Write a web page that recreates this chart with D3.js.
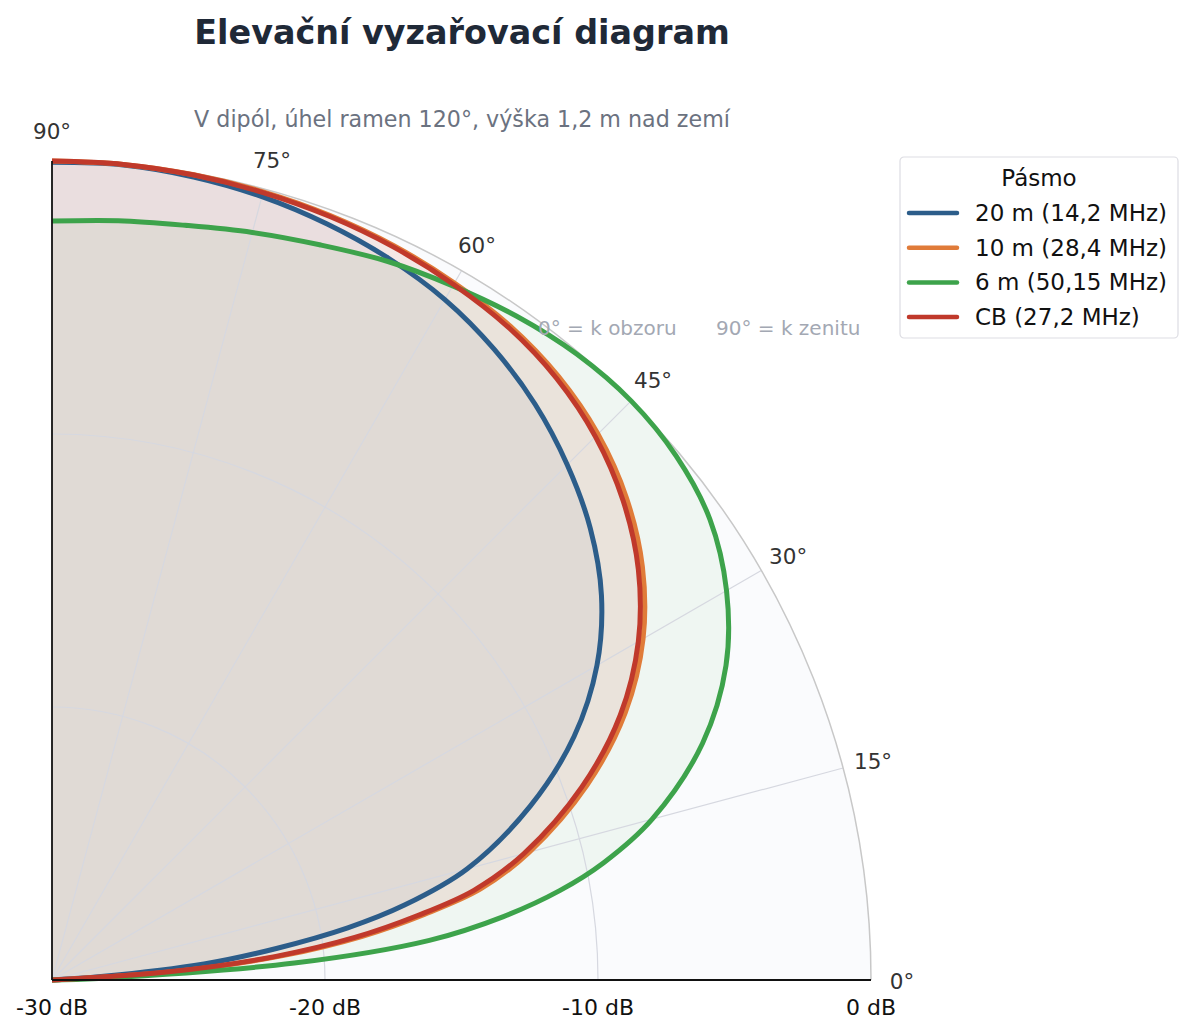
<!DOCTYPE html>
<html lang="cs">
<head>
<meta charset="utf-8">
<title>Elevační vyzařovací diagram</title>
<script src="https://cdn.jsdelivr.net/npm/d3@7"></script>
<style>
  body { margin: 0; background: #fff; }
  #chart text { font-family: "DejaVu Sans", sans-serif; }
</style>
</head>
<body>
<div id="chart"></div>
<script>
// elevation angles (deg) and gain (dB)
const angles = [0, 2, 4, 6, 8, 10, 12, 15, 20, 25, 30, 35, 40, 45, 50, 55, 60, 65, 70, 75, 80, 85, 90];
const band20 = [-30, -30, -28.2, -24.4, -21.7, -19.0, -16.8, -14.25, -11.35, -8.9, -6.95, -5.43, -4.26, -3.31, -2.47, -1.78, -1.22, -0.83, -0.53, -0.29, -0.13, -0.03, -0.05];
const band10 = [-30, -30, -25.4, -21.55, -18.55, -16.15, -13.95, -11.9, -9.15, -6.83, -5.0, -3.6, -2.53, -1.72, -1.14, -0.75, -0.52, -0.33, -0.2, -0.11, -0.05, -0.01, 0];
const band6 = [-30, -28.3, -21.1, -16.1, -13.3, -11.1, -9.34, -7.24, -4.64, -2.76, -1.47, -0.58, -0.15, 0, -0.08, -0.32, -0.64, -0.95, -1.34, -1.65, -1.93, -2.08, -2.2];
const bandCB = [-30, -30, -25.7, -21.8, -18.8, -16.4, -14.2, -12.1, -9.35, -7.03, -5.2, -3.78, -2.69, -1.85, -1.24, -0.83, -0.58, -0.38, -0.24, -0.14, -0.06, -0.01, 0];

const seriesNames = ["20 m (14,2 MHz)", "10 m (28,4 MHz)", "6 m (50,15 MHz)", "CB (27,2 MHz)"];
const seriesColors = ["#2c5d8a", "#e07b39", "#3da34b", "#c0392b"];
const seriesValues = [band20, band10, band6, bandCB];

const thetaTicks = [0, 15, 30, 45, 60, 75, 90];
const rTicks = [-30, -20, -10, 0];
const rGrid = [-20, -10];

const W = 1194, H = 1033;
const cx = 52, cy = 980, R = 819;

const svg = d3.select("#chart").append("svg")
  .attr("width", W).attr("height", H);

// radius in dB, angle as elevation (0 = horizon, 90 = zenith)
const r = d3.scaleLinear().domain([-30, 0]).range([0, R]).clamp(true);
const a = d3.scaleLinear().domain([0, 90]).range([Math.PI / 2, 0]);

const g = svg.append("g").attr("transform", "translate(" + cx + "," + cy + ")");

// sector background
g.append("path")
  .attr("d", d3.arc().innerRadius(0).outerRadius(R).startAngle(0).endAngle(Math.PI / 2)())
  .attr("fill", "#fafbfd");

const series = seriesValues.map(function(vals, i) {
  return { name: seriesNames[i], color: seriesColors[i],
    pts: angles.map(function(t, j) { return [t, vals[j]]; }) };
});

const area = d3.areaRadial()
  .angle(function(d) { return a(d[0]); })
  .innerRadius(0)
  .outerRadius(function(d) { return r(d[1]); })
  .curve(d3.curveCatmullRom);

const line = d3.lineRadial()
  .angle(function(d) { return a(d[0]); })
  .radius(function(d) { return r(d[1]); })
  .curve(d3.curveCatmullRom);

// fills
g.selectAll(".fill").data(series).enter().append("path")
  .attr("class", "fill")
  .attr("d", function(d) { return area(d.pts); })
  .attr("fill", function(d) { return d.color; })
  .attr("fill-opacity", 0.06);

// grid
const grid = g.append("g").attr("stroke", "#d6d8e0").attr("stroke-width", 1.2).attr("fill", "none");
thetaTicks.filter(function(t) { return t > 0 && t < 90; }).forEach(function(t) {
  grid.append("line")
    .attr("x1", 0).attr("y1", 0)
    .attr("x2", R * Math.cos(t * Math.PI / 180))
    .attr("y2", -R * Math.sin(t * Math.PI / 180));
});
rGrid.forEach(function(v) {
  grid.append("path")
    .attr("d", d3.arc().innerRadius(r(v)).outerRadius(r(v)).startAngle(0).endAngle(Math.PI / 2)());
});

// outer arc (under the curves)
g.append("path")
  .attr("d", d3.arc().innerRadius(R).outerRadius(R).startAngle(0).endAngle(Math.PI / 2)())
  .attr("fill", "none").attr("stroke", "#c8c8c8").attr("stroke-width", 1.5);

// curves
g.selectAll(".curve").data(series).enter().append("path")
  .attr("class", "curve")
  .attr("d", function(d) { return line(d.pts); })
  .attr("fill", "none")
  .attr("stroke", function(d) { return d.color; })
  .attr("stroke-width", 5)
  .attr("stroke-linejoin", "round");

// spines
g.append("line").attr("x1", 0).attr("y1", 0).attr("x2", 0).attr("y2", -R)
  .attr("stroke", "#111").attr("stroke-width", 1.8);
g.append("line").attr("x1", 0).attr("y1", 0).attr("x2", R).attr("y2", 0)
  .attr("stroke", "#111").attr("stroke-width", 1.8);

// angle labels
g.selectAll(".tlabel").data(thetaTicks).enter().append("text")
  .attr("x", function(t) { return (R + 31) * Math.cos(t * Math.PI / 180); })
  .attr("y", function(t) { return 1.5 - (R + 31) * Math.sin(t * Math.PI / 180); })
  .attr("text-anchor", "middle")
  .attr("dominant-baseline", "central")
  .attr("font-size", 21.5)
  .attr("fill", "#333")
  .text(function(t) { return t + "°"; });

// dB labels
g.selectAll(".rlabel").data(rTicks).enter().append("text")
  .attr("x", function(v) { return r(v); })
  .attr("y", 27)
  .attr("text-anchor", "middle")
  .attr("dominant-baseline", "central")
  .attr("font-size", 22)
  .attr("fill", "#111")
  .text(function(v) { return v + " dB"; });

// titles
svg.append("text").attr("x", 462).attr("y", 44)
  .attr("text-anchor", "middle").attr("font-size", 33.4).attr("font-weight", "bold")
  .attr("fill", "#1f2937").text("Elevační vyzařovací diagram");
svg.append("text").attr("x", 462).attr("y", 127)
  .attr("text-anchor", "middle").attr("font-size", 22.2)
  .attr("fill", "#6b7280").text("V dipól, úhel ramen 120°, výška 1,2 m nad zemí");

svg.append("text").attr("x", 538).attr("y", 335)
  .attr("font-size", 20).attr("fill", "#a3a8b3").text("0° = k obzoru");
svg.append("text").attr("x", 716).attr("y", 335)
  .attr("font-size", 20).attr("fill", "#a3a8b3").text("90° = k zenitu");

// legend
const lg = svg.append("g").attr("transform", "translate(900,157)");
lg.append("rect").attr("width", 278).attr("height", 181).attr("rx", 4)
  .attr("fill", "#fff").attr("fill-opacity", 0.85).attr("stroke", "#dddde3").attr("stroke-width", 1.2);
lg.append("text").attr("x", 139).attr("y", 21).attr("text-anchor", "middle")
  .attr("dominant-baseline", "central").attr("font-size", 23).attr("fill", "#111").text("Pásmo");
const items = lg.selectAll(".item").data(series).enter().append("g")
  .attr("transform", function(d, i) { return "translate(0," + (56 + i * 34.7) + ")"; });
items.append("line").attr("x1", 9).attr("x2", 57).attr("y1", 0).attr("y2", 0)
  .attr("stroke", function(d) { return d.color; }).attr("stroke-width", 4.5).attr("stroke-linecap", "round");
items.append("text").attr("x", 75).attr("y", 0).attr("dominant-baseline", "central")
  .attr("font-size", 23).attr("fill", "#111").text(function(d) { return d.name; });
</script>
</body>
</html>
